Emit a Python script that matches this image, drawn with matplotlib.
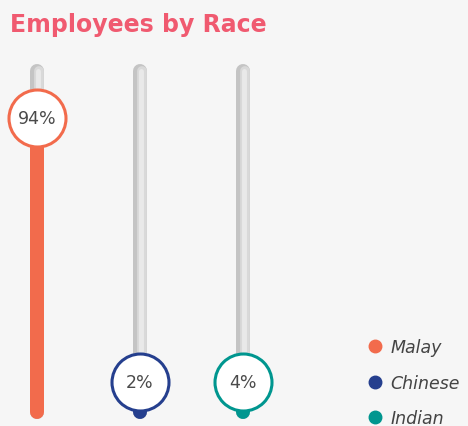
import matplotlib.pyplot as plt
from matplotlib.lines import Line2D
import numpy as np

races = ["Malay", "Chinese", "Indian"]
shares = [94, 2, 4]
labels = ["94%", "2%", "4%"]
colors = ["#f26b4c", "#253f8e", "#00968f"]

bg = "#f6f6f6"
fig = plt.figure(figsize=(4.68, 4.27), dpi=100, facecolor=bg)
ax = fig.add_axes([0, 0, 1, 1])
ax.set_facecolor(bg)

px_x = 103.0   # pixels per category step
px_y = 3.13    # pixels per percent
ax.set_xlim(-37 / px_x, (468 - 37) / px_x)
ax.set_ylim(-(427 - 413) / px_y, 413 / px_y)
ax.axis("off")

track_top = 109
w = 14 * 72 / 100  # 14 px in points
xs = np.arange(len(races))

for i, (v, c, lab) in enumerate(zip(shares, colors, labels)):
    x = xs[i]
    # grey track with a rough horizontal gradient
    ax.plot([x, x], [0, track_top], color="#c4c4c4", lw=w, solid_capstyle="round", zorder=1)
    ax.plot([x + 1.5 / px_x, x + 1.5 / px_x], [0, track_top], color="#d9d9d9", lw=w * 0.7,
            solid_capstyle="round", zorder=2)
    ax.plot([x + 1.0 / px_x, x + 1.0 / px_x], [0, track_top], color="#e9e9e9", lw=w * 0.35,
            solid_capstyle="round", zorder=3)
    # filled share
    ax.plot([x, x], [0, v], color=c, lw=w, solid_capstyle="round", zorder=4)
    # marker circle
    my = max(v, 9.5)
    ax.scatter([x], [my], s=(57 * 72 / 100) ** 2, facecolor="white", edgecolor=c,
               linewidth=2.2, zorder=5)
    ax.text(x, my, lab, ha="center", va="center", fontsize=12.5, color="#4a4a4a",
            family="DejaVu Sans", zorder=6)

fig.text(10 / 468, 1 - 25 / 427, "Employees by Race", ha="left", va="center",
         fontsize=17, fontweight="bold", color="#f05a70", family="DejaVu Sans")

handles = [Line2D([], [], marker="o", ls="", color=c, markersize=9) for c in colors]
leg = ax.legend(handles, races, loc="lower left", bbox_to_anchor=(356 / 468, -0.027),
                frameon=False, prop={"style": "italic", "size": 12.5, "family": "DejaVu Sans"},
                labelspacing=1.0, handletextpad=0.4, handlelength=1.0,
                borderaxespad=0.2)
for t in leg.get_texts():
    t.set_color("#444444")

fig.savefig("out.png", dpi=100, facecolor=bg)
